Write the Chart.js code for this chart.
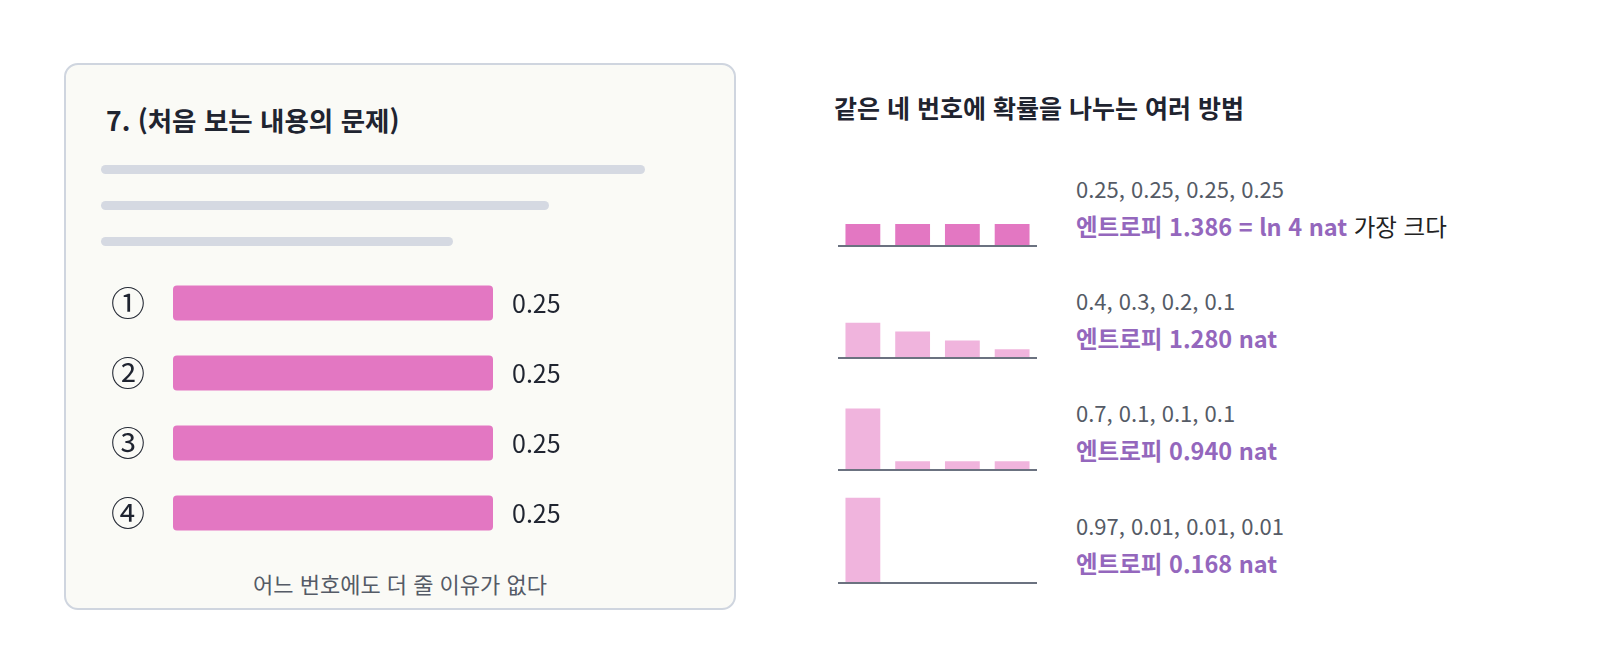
<!DOCTYPE html>
<html lang="ko">
<head>
<meta charset="UTF-8">
<title>엔트로피 비교</title>
<script src="https://cdn.jsdelivr.net/npm/chart.js"></script>
<style>
  body {
    margin: 0;
    width: 1600px;
    height: 672px;
    background: #ffffff;
    font-family: "Noto Sans CJK KR", "Noto Sans", sans-serif;
    position: relative;
    overflow: hidden;
  }
  .abs { position: absolute; white-space: nowrap; }
  .card {
    position: absolute;
    left: 64px; top: 63px;
    width: 672px; height: 547px;
    border: 2px solid #cfd5df;
    border-radius: 14px;
    background: #fafaf6;
    box-sizing: border-box;
  }
  .line {
    position: absolute;
    height: 9px;
    border-radius: 5px;
    background: #d5d9e2;
  }
  .title { font-weight: 700; color: #1f2430; }
  .vals { color: #555b66; font-size: 22px; line-height: 30px; }
  .ent { color: #9467bd; font-weight: 700; font-size: 23.5px; line-height: 30px; }
  .ent span { color: #222; font-weight: 400; }
  .cv { position: absolute; }
</style>
</head>
<body>
<div class="card"></div>
<div class="abs title" style="left:106px; top:102px; font-size:26.5px; line-height:36px;">7. (처음 보는 내용의 문제)</div>
<div class="line" style="left:101px; top:165px; width:544px;"></div>
<div class="line" style="left:101px; top:201px; width:448px;"></div>
<div class="line" style="left:101px; top:237px; width:352px;"></div>
<canvas id="leftChart" class="cv" width="500" height="280" style="left:100px; top:268px;"></canvas>
<div class="abs" style="left:64px; width:672px; top:568px; text-align:center; font-size:22px; line-height:30px; color:#555b66;">어느 번호에도 더 줄 이유가 없다</div>

<div class="abs title" style="left:834px; top:90px; font-size:25px; line-height:34px;">같은 네 번호에 확률을 나누는 여러 방법</div>
<div id="rows"></div>

<script>
// 왼쪽: 처음 보는 문제의 네 보기
const choiceLabels = ['①', '②', '③', '④'];
const choiceProbs = [0.25, 0.25, 0.25, 0.25];

// 오른쪽: 네 가지 분포
const distA = [0.25, 0.25, 0.25, 0.25];
const distB = [0.4, 0.3, 0.2, 0.1];
const distC = [0.7, 0.1, 0.1, 0.1];
const distD = [0.97, 0.01, 0.01, 0.01];
const distTexts = ['0.25, 0.25, 0.25, 0.25', '0.4, 0.3, 0.2, 0.1', '0.7, 0.1, 0.1, 0.1', '0.97, 0.01, 0.01, 0.01'];
const entropyTexts = ['엔트로피 1.386 = ln 4 nat', '엔트로피 1.280 nat', '엔트로피 0.940 nat', '엔트로피 0.168 nat'];
const entropyNotes = ['가장 크다', '', '', ''];

const PINK = '#e377c2';
const PINK_LIGHT = '#f0b4dd';
const FONT = '"Noto Sans CJK KR", "Noto Sans", sans-serif';

// 보기 번호와 막대 끝 값 쓰기
const choiceText = {
  id: 'choiceText',
  afterDatasetsDraw(chart) {
    const ctx = chart.ctx;
    const meta = chart.getDatasetMeta(0);
    ctx.save();
    ctx.fillStyle = '#1f2430';
    ctx.textBaseline = 'middle';
    meta.data.forEach((bar, i) => {
      ctx.font = '34px ' + FONT;
      ctx.textAlign = 'center';
      ctx.fillText(choiceLabels[i], 28, bar.y);
      ctx.font = '25px ' + FONT;
      ctx.textAlign = 'left';
      ctx.fillText(choiceProbs[i].toFixed(2), bar.x + 19, bar.y);
    });
    ctx.restore();
  }
};

new Chart(document.getElementById('leftChart'), {
  type: 'bar',
  data: {
    labels: choiceLabels,
    datasets: [{
      data: choiceProbs,
      backgroundColor: PINK,
      borderRadius: 4,
      borderSkipped: false,
      barPercentage: 0.5,
      categoryPercentage: 1
    }]
  },
  options: {
    indexAxis: 'y',
    responsive: false,
    animation: false,
    layout: { padding: { left: 73, right: 43, top: 0, bottom: 0 } },
    plugins: { legend: { display: false }, tooltip: { enabled: false } },
    scales: {
      x: { min: 0, max: 0.3, display: false },
      y: { display: false }
    }
  },
  plugins: [choiceText]
});

// 작은 막대그래프 네 개
const dists = [distA, distB, distC, distD];
const rowBase = [246, 358, 470, 583];
const rowsEl = document.getElementById('rows');

dists.forEach((dist, r) => {
  const cv = document.createElement('canvas');
  cv.className = 'cv';
  cv.width = 199;
  cv.height = 100;
  cv.style.left = '838px';
  cv.style.top = (rowBase[r] - 96) + 'px';
  rowsEl.appendChild(cv);

  const v = document.createElement('div');
  v.className = 'abs vals';
  v.style.left = '1076px';
  v.style.top = (rowBase[r] - 58 - 15) + 'px';
  v.textContent = distTexts[r];
  rowsEl.appendChild(v);

  const e = document.createElement('div');
  e.className = 'abs ent';
  e.style.left = '1076px';
  e.style.top = (rowBase[r] - 20 - 15) + 'px';
  e.textContent = entropyTexts[r];
  if (entropyNotes[r]) {
    const s = document.createElement('span');
    s.textContent = ' ' + entropyNotes[r];
    e.appendChild(s);
  }
  rowsEl.appendChild(e);

  new Chart(cv, {
    type: 'bar',
    data: {
      labels: ['1', '2', '3', '4'],
      datasets: [{
        data: dist,
        backgroundColor: r === 0 ? PINK : PINK_LIGHT,
        barPercentage: 0.7,
        categoryPercentage: 1
      }]
    },
    options: {
      responsive: false,
      animation: false,
      layout: { padding: { top: 8, bottom: 4 } },
      plugins: { legend: { display: false }, tooltip: { enabled: false } },
      scales: {
        x: {
          grid: { display: false, drawTicks: false },
          ticks: { display: false },
          border: { display: true, color: '#6b7280', width: 2, z: 1 }
        },
        y: { min: 0, max: 1, display: false }
      }
    }
  });
});
</script>
</body>
</html>
